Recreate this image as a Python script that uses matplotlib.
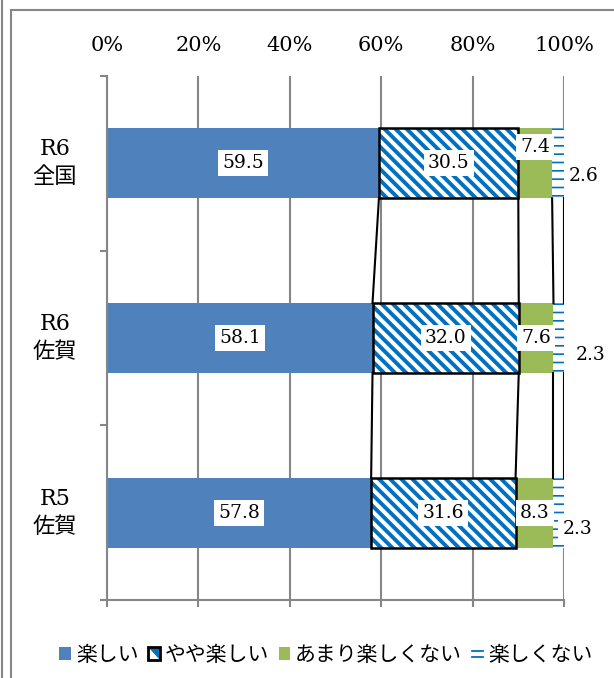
import matplotlib
matplotlib.use("Agg")
import matplotlib.pyplot as plt
from matplotlib.patches import Patch, Rectangle, Polygon
from matplotlib.lines import Line2D
from matplotlib.legend_handler import HandlerBase
import numpy as np

# data
categories = ["R6\n全国", "R6\n佐賀", "R5\n佐賀"]
series_names = ["楽しい", "やや楽しい", "あまり楽しくない", "楽しくない"]
tanoshii = [59.5, 58.1, 57.8]
yaya = [30.5, 32.0, 31.6]
amari = [7.4, 7.6, 8.3]
tanoshikunai = [2.6, 2.3, 2.3]
x_ticks = [0, 20, 40, 60, 80, 100]
x_tick_labels = ["0%", "20%", "40%", "60%", "80%", "100%"]

BLUE = "#4F81BD"
GREEN = "#9BBB59"
HATCH_BLUE = "#0070C0"
GRAY = "#868686"
SERIF = ["DejaVu Serif", "Noto Sans CJK JP"]
JP = ["Noto Sans CJK JP", "DejaVu Sans"]

plt.rcParams["font.family"] = SERIF

fig = plt.figure(figsize=(6.14, 6.78), dpi=100)
ax = fig.add_axes([107 / 614, 1 - 600 / 678, 457 / 614, 524 / 678])

y = np.arange(len(categories))
h = 0.4
vals = np.array([tanoshii, yaya, amari, tanoshikunai])
left = np.vstack([np.zeros(3), np.cumsum(vals, axis=0)[:-1]])
cum = np.cumsum(vals, axis=0)

def set_hlw(bars, lw):
    for b in bars:
        if hasattr(b, "set_hatch_linewidth"):
            b.set_hatch_linewidth(lw)

# series 1
ax.barh(y, vals[0], left=left[0], height=h, color=BLUE, zorder=2)
# series 2: blue diagonal hatch + black border
plt.rcParams["hatch.linewidth"] = 2.8
b2 = ax.barh(y, vals[1], left=left[1], height=h, facecolor="white",
             edgecolor=HATCH_BLUE, hatch="\\\\\\", linewidth=0, zorder=2)
set_hlw(b2, 2.8)
ax.barh(y, vals[1], left=left[1], height=h, facecolor="none",
        edgecolor="black", linewidth=1.8, zorder=3)
# series 3
ax.barh(y, vals[2], left=left[2], height=h, color=GREEN, zorder=2)
# series 4: horizontal blue dashes
plt.rcParams["hatch.linewidth"] = 1.2
b4 = ax.barh(y, vals[3], left=left[3], height=h, facecolor="white",
             edgecolor=HATCH_BLUE, hatch="--", linewidth=0, zorder=2)
set_hlw(b4, 1.2)

# series lines
for i in range(len(categories) - 1):
    for k in range(4):
        ax.plot([cum[k][i], cum[k][i + 1]], [i + h / 2, i + 1 - h / 2],
                color="black", lw=1.5, zorder=4)

# data labels
bbox = dict(facecolor="white", edgecolor="none", pad=3)
label_dy = [[0, 0, 0], [0, 0, 0], [12, 0, 0]]
for k in range(3):
    for i in range(3):
        ax.annotate(f"{vals[k][i]:.1f}", (left[k][i] + vals[k][i] / 2, y[i]),
                    xytext=(0, label_dy[k][i]), textcoords="offset points",
                    ha="center", va="center", fontsize=13.5, bbox=bbox, zorder=5)
last_dx = [14, 19, 9.5]
last_dy = [-9, -12, -12]
for i in range(3):
    ax.annotate(f"{vals[3][i]:.1f}", (100, y[i]),
                xytext=(last_dx[i], last_dy[i]), textcoords="offset points",
                ha="center", va="center", fontsize=13.5, bbox=bbox, zorder=5)

# axes styling
ax.set_xlim(0, 100)
ax.set_ylim(2.5, -0.5)
ax.set_xticks(x_ticks)
ax.set_xticklabels(x_tick_labels, fontsize=15)
ax.tick_params(axis="x", which="major", top=False, bottom=True, labeltop=True,
               labelbottom=False, length=5, width=1.5, color=GRAY, pad=10)
ax.set_yticks([-0.5, 0.5, 1.5, 2.5])
ax.set_yticklabels([])
ax.tick_params(axis="y", length=5, width=1.5, color=GRAY)
for sp in ["top", "right"]:
    ax.spines[sp].set_visible(False)
for sp in ["left", "bottom"]:
    ax.spines[sp].set_color(GRAY)
    ax.spines[sp].set_linewidth(1.5)
ax.xaxis.grid(True, color=GRAY, lw=1.5, zorder=0)
ax.set_axisbelow(True)

for i, c in enumerate(categories):
    ax.text(-0.114, y[i], c, transform=ax.get_yaxis_transform(), ha="center",
            va="center", fontsize=16, linespacing=1.35, family=SERIF)


# legend
class HatchBoxHandler(HandlerBase):
    def create_artists(self, legend, orig_handle, xdescent, ydescent, width,
                       height, fontsize, trans):
        x0, y0 = -xdescent, -ydescent
        tri = Polygon([[x0, y0 + height], [x0 + width, y0 + height],
                       [x0 + width, y0]], closed=True, facecolor=HATCH_BLUE,
                      edgecolor="none", transform=trans)
        box = Rectangle((x0, y0), width, height, facecolor="none",
                        edgecolor="black", linewidth=2, transform=trans)
        return [tri, box]


class DashHandler(HandlerBase):
    def create_artists(self, legend, orig_handle, xdescent, ydescent, width,
                       height, fontsize, trans):
        x0, y0 = -xdescent, -ydescent
        l1 = Line2D([x0, x0 + width], [y0 + height * 0.7] * 2, color=HATCH_BLUE,
                    lw=1.3, transform=trans)
        l2 = Line2D([x0, x0 + width], [y0 + height * 0.2] * 2, color=HATCH_BLUE,
                    lw=1.3, transform=trans)
        return [l1, l2]


hatch_handle = Patch(facecolor="white", edgecolor="black")
dash_handle = Patch(facecolor="white", edgecolor=HATCH_BLUE)
handles = [
    Patch(facecolor=BLUE, edgecolor="none"),
    hatch_handle,
    Patch(facecolor=GREEN, edgecolor="none"),
    dash_handle,
]
fig.legend(handles, series_names, loc="center", bbox_to_anchor=(0.531, 0.034),
           ncol=4, frameon=False, prop={"family": JP, "size": 15},
           handlelength=0.55, handleheight=0.55, handletextpad=0.25,
           columnspacing=0.45,
           handler_map={hatch_handle: HatchBoxHandler(),
                        dash_handle: DashHandler()})

# outer frame
fig.add_artist(Line2D([11 / 614, 11 / 614], [0, 1 - 10 / 678], color=GRAY, lw=1.5))
fig.add_artist(Line2D([11 / 614, 1], [1 - 10 / 678, 1 - 10 / 678], color=GRAY, lw=1.5))
fig.add_artist(Line2D([2 / 614, 2 / 614], [0, 1], color=GRAY, lw=1.5))

fig.savefig("out.png", dpi=100)
